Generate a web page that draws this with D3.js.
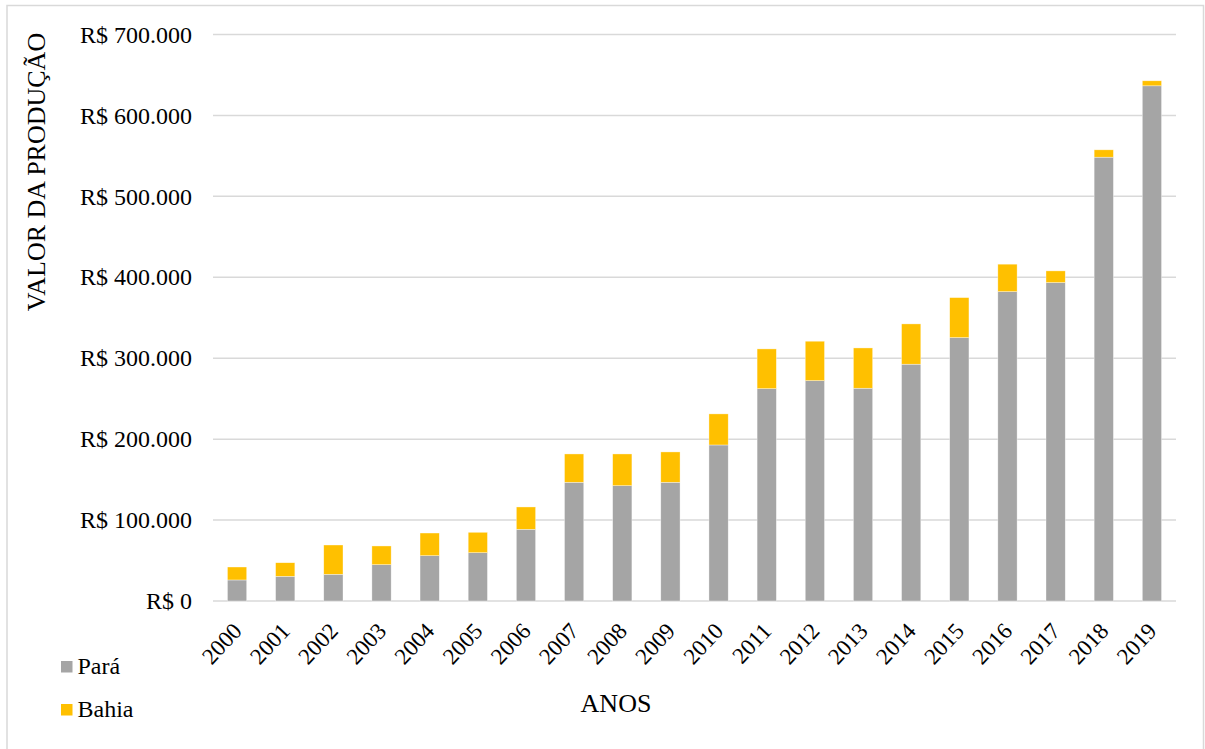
<!DOCTYPE html>
<html>
<head>
<meta charset="utf-8">
<script src="https://cdn.jsdelivr.net/npm/d3@7"></script>
<style>
  html, body { margin: 0; padding: 0; background: #ffffff; }
  svg { display: block; }
  svg text { font-family: "Liberation Serif", "Times New Roman", serif !important; fill: #000; }
</style>
</head>
<body>
<svg id="chart" width="1205" height="749"></svg>
<script>
// Production value by year, in R$ (thousands), split by state
const years = ["2000","2001","2002","2003","2004","2005","2006","2007","2008","2009",
               "2010","2011","2012","2013","2014","2015","2016","2017","2018","2019"];
const para  = [26000, 30500, 33000, 44900, 56000, 59700, 88600, 146700, 142500, 146700,
               192800, 262400, 272300, 262900, 292600, 325500, 382300, 393500, 548400, 636600];
const bahia = [16000, 16800, 36200, 23100, 28000, 25200, 27600, 35000, 39200, 37500,
               38400, 49100, 48700, 49800, 49800, 49400, 33900, 14400, 9100, 6200];
const seriesNames = ["Pará", "Bahia"];
const seriesColors = ["#a5a5a5", "#ffc000"];
const yTicks = [0, 100000, 200000, 300000, 400000, 500000, 600000, 700000];

const rows = years.map((y, i) => ({ year: y, "Pará": para[i], "Bahia": bahia[i] }));

const svg = d3.select("#chart");

// outer frame
svg.append("rect")
  .attr("x", 7).attr("y", 5.5)
  .attr("width", 1196.5).attr("height", 760)
  .attr("fill", "none").attr("stroke", "#d9d9d9").attr("stroke-width", 1.5);

const x = d3.scaleBand().domain(years).range([213, 1176])
  .paddingInner(0.6).paddingOuter(0.3);
const y = d3.scaleLinear().domain([0, 700000]).range([601, 34.5]);

const fmt = v => "R$ " + d3.format(",")(v).replace(/,/g, ".");

// horizontal gridlines
svg.append("g")
  .selectAll("line").data(yTicks).join("line")
  .attr("x1", 213).attr("x2", 1176)
  .attr("y1", d => y(d)).attr("y2", d => y(d))
  .attr("stroke", "#d9d9d9").attr("stroke-width", 1.5);

// y axis labels
const yAxis = d3.axisLeft(y).tickValues(yTicks).tickFormat(fmt).tickSize(0).tickPadding(0);
const gy = svg.append("g").attr("transform", "translate(192,0)").call(yAxis);
gy.select(".domain").remove();
gy.selectAll("text").attr("font-size", 24);

// stacked bars
const stack = d3.stack().keys(seriesNames)(rows);
svg.append("g").selectAll("g").data(stack).join("g")
  .attr("fill", (d, i) => seriesColors[i])
  .selectAll("rect").data(d => d).join("rect")
  .attr("x", d => x(d.data.year))
  .attr("width", x.bandwidth())
  .attr("y", d => y(d[1]))
  .attr("height", d => y(d[0]) - y(d[1]))
  .attr("stroke", "rgba(255,255,255,0.6)").attr("stroke-width", 0.6);

// x axis year labels, rotated
const xAxis = d3.axisBottom(x).tickSize(0).tickPadding(0);
const gx = svg.append("g").attr("transform", "translate(0,601)").call(xAxis);
gx.select(".domain").remove();
gx.selectAll(".tick text")
  .attr("font-size", 23)
  .attr("text-anchor", "end")
  .attr("dy", 0).attr("y", 0)
  .attr("transform", "translate(6,31) rotate(-47)");

// axis titles
svg.append("text")
  .attr("x", 616).attr("y", 712)
  .attr("text-anchor", "middle")
  .attr("font-size", 26)
  .text("ANOS");

svg.append("text")
  .attr("transform", "translate(45,172) rotate(-90)")
  .attr("text-anchor", "middle")
  .attr("font-size", 26)
  .text("VALOR DA PRODUÇÃO");

// legend
const legend = svg.append("g").selectAll("g").data(seriesNames).join("g")
  .attr("transform", (d, i) => `translate(61,${661 + i * 43})`);
legend.append("rect")
  .attr("width", 11.5).attr("height", 11.5)
  .attr("fill", (d, i) => seriesColors[i]);
legend.append("text")
  .attr("x", 16.5).attr("y", 12.5)
  .attr("font-size", 24)
  .text(d => d);
</script>
</body>
</html>
